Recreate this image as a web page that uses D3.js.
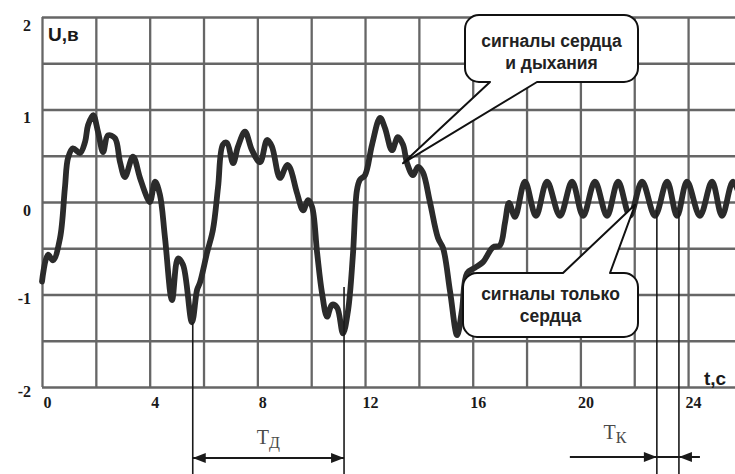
<!DOCTYPE html>
<html>
<head>
<meta charset="utf-8">
<script src="https://cdn.jsdelivr.net/npm/d3@7"></script>
<style>
  html, body { margin: 0; padding: 0; background: #fff; }
  svg { display: block; }
</style>
</head>
<body>
<svg id="chart" width="735" height="474"></svg>
<script>
// Signal: breathing + heart (0–17 s), then heart only (17–26 s)
const signalT = [0.00, 0.22, 0.41, 0.67, 0.85, 0.97, 1.15, 1.41, 1.60, 1.71, 1.90, 2.08, 2.27, 2.45, 2.71, 2.90,
  3.08, 3.38, 3.64, 3.90, 4.01, 4.20, 4.38, 4.57, 4.83, 5.05, 5.24, 5.57, 5.76, 5.87, 6.13, 6.35, 6.54, 6.72,
  6.87, 7.10, 7.28, 7.54, 7.80, 8.10, 8.36, 8.54, 8.84, 9.10, 9.21, 9.47, 9.70, 9.88, 10.03, 10.22, 10.40,
  10.59, 10.77, 10.96, 11.18, 11.37, 11.55, 11.70, 11.81, 12.00, 12.26, 12.56, 12.74, 13.00, 13.22, 13.41,
  13.56, 13.78, 13.97, 14.15, 14.41, 14.71, 14.90, 15.16, 15.42, 15.60, 15.79, 16.09, 16.38, 16.75, 17.01,
  17.20, 17.35, 17.57, 17.94, 18.35, 18.76, 19.24, 19.69, 20.10, 20.54, 20.99, 21.40, 21.84, 22.29, 22.77,
  23.22, 23.59, 23.96, 24.44, 24.89, 25.26, 25.67, 26.11];
const signalU = [-0.86, -0.57, -0.63, -0.39, 0.15, 0.48, 0.58, 0.53, 0.65, 0.83, 0.94, 0.76, 0.54, 0.72, 0.69, 0.43,
  0.27, 0.49, 0.26, 0.05, 0.00, 0.22, 0.08, -0.39, -1.06, -0.61, -0.68, -1.30, -0.95, -0.87, -0.55, -0.30, 0.16, 0.62,
  0.64, 0.42, 0.60, 0.76, 0.56, 0.43, 0.67, 0.60, 0.26, 0.40, 0.37, 0.10, -0.09, 0.02, -0.05, -0.55, -0.98,
  -1.24, -1.11, -1.14, -1.42, -1.17, -0.57, 0.13, 0.24, 0.29, 0.62, 0.91, 0.80, 0.56, 0.70, 0.62,
  0.42, 0.29, 0.38, 0.32, 0.00, -0.39, -0.50, -0.97, -1.44, -1.17, -0.77, -0.71, -0.65, -0.49, -0.47,
  -0.22, -0.01, -0.16, 0.22, -0.15, 0.22, -0.15, 0.22, -0.15, 0.22, -0.15, 0.22, -0.15, 0.22, -0.15,
  0.22, -0.15, 0.22, -0.15, 0.22, -0.15, 0.22, -0.15];

// Grid and tick labels
const gridT = d3.range(0, 27, 2);
const gridU = d3.range(-2, 2.01, 0.5);
const xTickLabels = [0, 4, 8, 12, 16, 20, 24];
const yTickLabels = [2, 1, 0, -1, -2];

// Period markers: breathing period (TД) and cardiac period (TК)
const breathMarkT = [5.60, 11.22];
const breathMarkU = [-1.30, -0.92];
const heartMarkT = [22.84, 23.66];
const heartMarkU = [-0.09, -0.09];

// Callout texts and the points they refer to
const calloutLines = [["сигналы сердца", "и дыхания"], ["сигналы только", "сердца"]];
const calloutTipT = [13.41, 22.03];
const calloutTipU = [0.42, -0.03];

const W = 735, H = 474;
const svg = d3.select("#chart");

const x = d3.scaleLinear().domain([0, 26]).range([42, 42 + 26 * 26.92]);
const y = d3.scaleLinear().domain([-2, 2]).range([387, 17]);

const gridColor = "#666";

// vertical grid lines
const gx = svg.append("g").attr("transform", `translate(0,${y(-2)})`)
  .call(d3.axisBottom(x).tickValues(gridT).tickSize(-(y(-2) - y(2))).tickFormat(""));
gx.select(".domain").remove();
gx.selectAll("line").attr("stroke", gridColor).attr("stroke-width", 2.3);

// horizontal grid lines
const gy = svg.append("g").attr("transform", `translate(${x(0)},0)`)
  .call(d3.axisRight(y).tickValues(gridU).tickSize(W - x(0)).tickFormat(""));
gy.select(".domain").remove();
gy.selectAll("line").attr("stroke", gridColor).attr("stroke-width", 2.3);

// x tick labels
const ax = svg.append("g").attr("transform", `translate(0,${y(-2)})`)
  .call(d3.axisBottom(x).tickValues(xTickLabels).tickSize(0).tickFormat(d => String(d)));
ax.select(".domain").remove();
ax.selectAll("text")
  .attr("font-family", "'Liberation Serif', 'Times New Roman', serif")
  .attr("font-weight", "bold").attr("font-size", 16).attr("fill", "#1a1a1a")
  .attr("dy", 0).attr("y", 21).attr("x", 5);

// y tick labels
const ay = svg.append("g").attr("transform", `translate(31,0)`)
  .call(d3.axisLeft(y).tickValues(yTickLabels).tickSize(0).tickFormat(d => String(d)));
ay.select(".domain").remove();
ay.selectAll("text")
  .attr("font-family", "'Liberation Serif', 'Times New Roman', serif")
  .attr("font-weight", "bold").attr("font-size", 16).attr("fill", "#1a1a1a")
  .attr("x", 0).attr("dy", d => d >= 0 ? 13 : 9);

// axis titles
svg.append("text").attr("x", 48).attr("y", 41).text("U,в")
  .attr("font-family", "'Liberation Sans', Arial, sans-serif").attr("font-weight", "bold")
  .attr("font-size", 19).attr("fill", "#1a1a1a");
svg.append("text").attr("x", 704).attr("y", 385).text("t,c")
  .attr("font-family", "'Liberation Sans', Arial, sans-serif").attr("font-weight", "bold")
  .attr("font-size", 19).attr("fill", "#1a1a1a");

// signal curve
const pts = signalT.map((t, i) => [t, signalU[i]]);
svg.append("path").datum(pts)
  .attr("d", d3.line().x(d => x(d[0])).y(d => y(d[1])).curve(d3.curveCatmullRom.alpha(0.5)))
  .attr("fill", "none").attr("stroke", "#2b2b2b").attr("stroke-width", 5.8)
  .attr("stroke-linejoin", "round").attr("stroke-linecap", "round");

// callout bubbles
function bubble(x0, y0, x1, y1, r, side, a, b, tx, ty) {
  const p = d3.path();
  if (side === "top") {
    p.moveTo(x0 + r, y0); p.lineTo(a, y0); p.lineTo(tx, ty); p.lineTo(b, y0);
  } else {
    p.moveTo(x0 + r, y0);
  }
  p.lineTo(x1 - r, y0); p.arcTo(x1, y0, x1, y0 + r, r);
  p.lineTo(x1, y1 - r); p.arcTo(x1, y1, x1 - r, y1, r);
  if (side === "bottom") { p.lineTo(b, y1); p.lineTo(tx, ty); p.lineTo(a, y1); }
  p.lineTo(x0 + r, y1); p.arcTo(x0, y1, x0, y1 - r, r);
  p.lineTo(x0, y0 + r); p.arcTo(x0, y0, x0 + r, y0, r);
  p.closePath();
  return p.toString();
}
const boxes = [
  { x0: 465, y0: 15, x1: 638, y1: 82, side: "bottom", a: 490, b: 537, base: 47 },
  { x0: 463, y0: 273, x1: 638, y1: 337, side: "top", a: 563, b: 610, base: 300 }
];
boxes.forEach((bx, i) => {
  svg.append("path")
    .attr("d", bubble(bx.x0, bx.y0, bx.x1, bx.y1, 14, bx.side, bx.a, bx.b, x(calloutTipT[i]), y(calloutTipU[i])))
    .attr("fill", "#fff").attr("stroke", "#111").attr("stroke-width", 2).attr("stroke-linejoin", "round");
  calloutLines[i].forEach((line, j) => {
    svg.append("text").attr("x", (bx.x0 + bx.x1) / 2).attr("y", bx.base + j * 22)
      .attr("text-anchor", "middle").text(line)
      .attr("font-family", "'Liberation Sans', Arial, sans-serif").attr("font-weight", "bold")
      .attr("font-size", 17.5).attr("fill", "#222");
  });
});

// period marker lines
const markStroke = "#1a1a1a";
breathMarkT.concat(heartMarkT).forEach((t, i) => {
  const u = breathMarkU.concat(heartMarkU)[i];
  svg.append("line").attr("x1", x(t)).attr("x2", x(t)).attr("y1", y(u)).attr("y2", H)
    .attr("stroke", markStroke).attr("stroke-width", 1.6);
});

function head(xTip, yy, dir) {
  // dir = +1 points right, -1 points left
  const L = 13, w = 5;
  return `M${xTip},${yy}L${xTip - dir * L},${yy - w}L${xTip - dir * L},${yy + w}Z`;
}
// TД arrow
const ayD = 458;
svg.append("line").attr("x1", x(breathMarkT[0])).attr("x2", x(breathMarkT[1]))
  .attr("y1", ayD).attr("y2", ayD).attr("stroke", markStroke).attr("stroke-width", 1.8);
svg.append("path").attr("d", head(x(breathMarkT[0]), ayD, -1)).attr("fill", markStroke);
svg.append("path").attr("d", head(x(breathMarkT[1]), ayD, 1)).attr("fill", markStroke);

// TК arrows (from outside)
const ayK = 457;
svg.append("line").attr("x1", x(heartMarkT[0]) - 87).attr("x2", x(heartMarkT[1]) + 21)
  .attr("y1", ayK).attr("y2", ayK).attr("stroke", markStroke).attr("stroke-width", 1.8);
svg.append("path").attr("d", head(x(heartMarkT[0]), ayK, 1)).attr("fill", markStroke);
svg.append("path").attr("d", head(x(heartMarkT[1]), ayK, -1)).attr("fill", markStroke);

// period labels
function periodLabel(cx, by, sub) {
  const t = svg.append("text").attr("x", cx).attr("y", by).attr("text-anchor", "middle")
    .attr("font-family", "'Liberation Serif', 'Times New Roman', serif")
    .attr("fill", "#4a4a4a").attr("font-size", 20);
  t.append("tspan").text("T");
  t.append("tspan").attr("dy", 4).attr("font-size", 16).text(sub);
}
periodLabel(d3.mean(breathMarkT, x), 444, "Д");
periodLabel(x(heartMarkT[0]) - 42, 439, "К");
</script>
</body>
</html>
